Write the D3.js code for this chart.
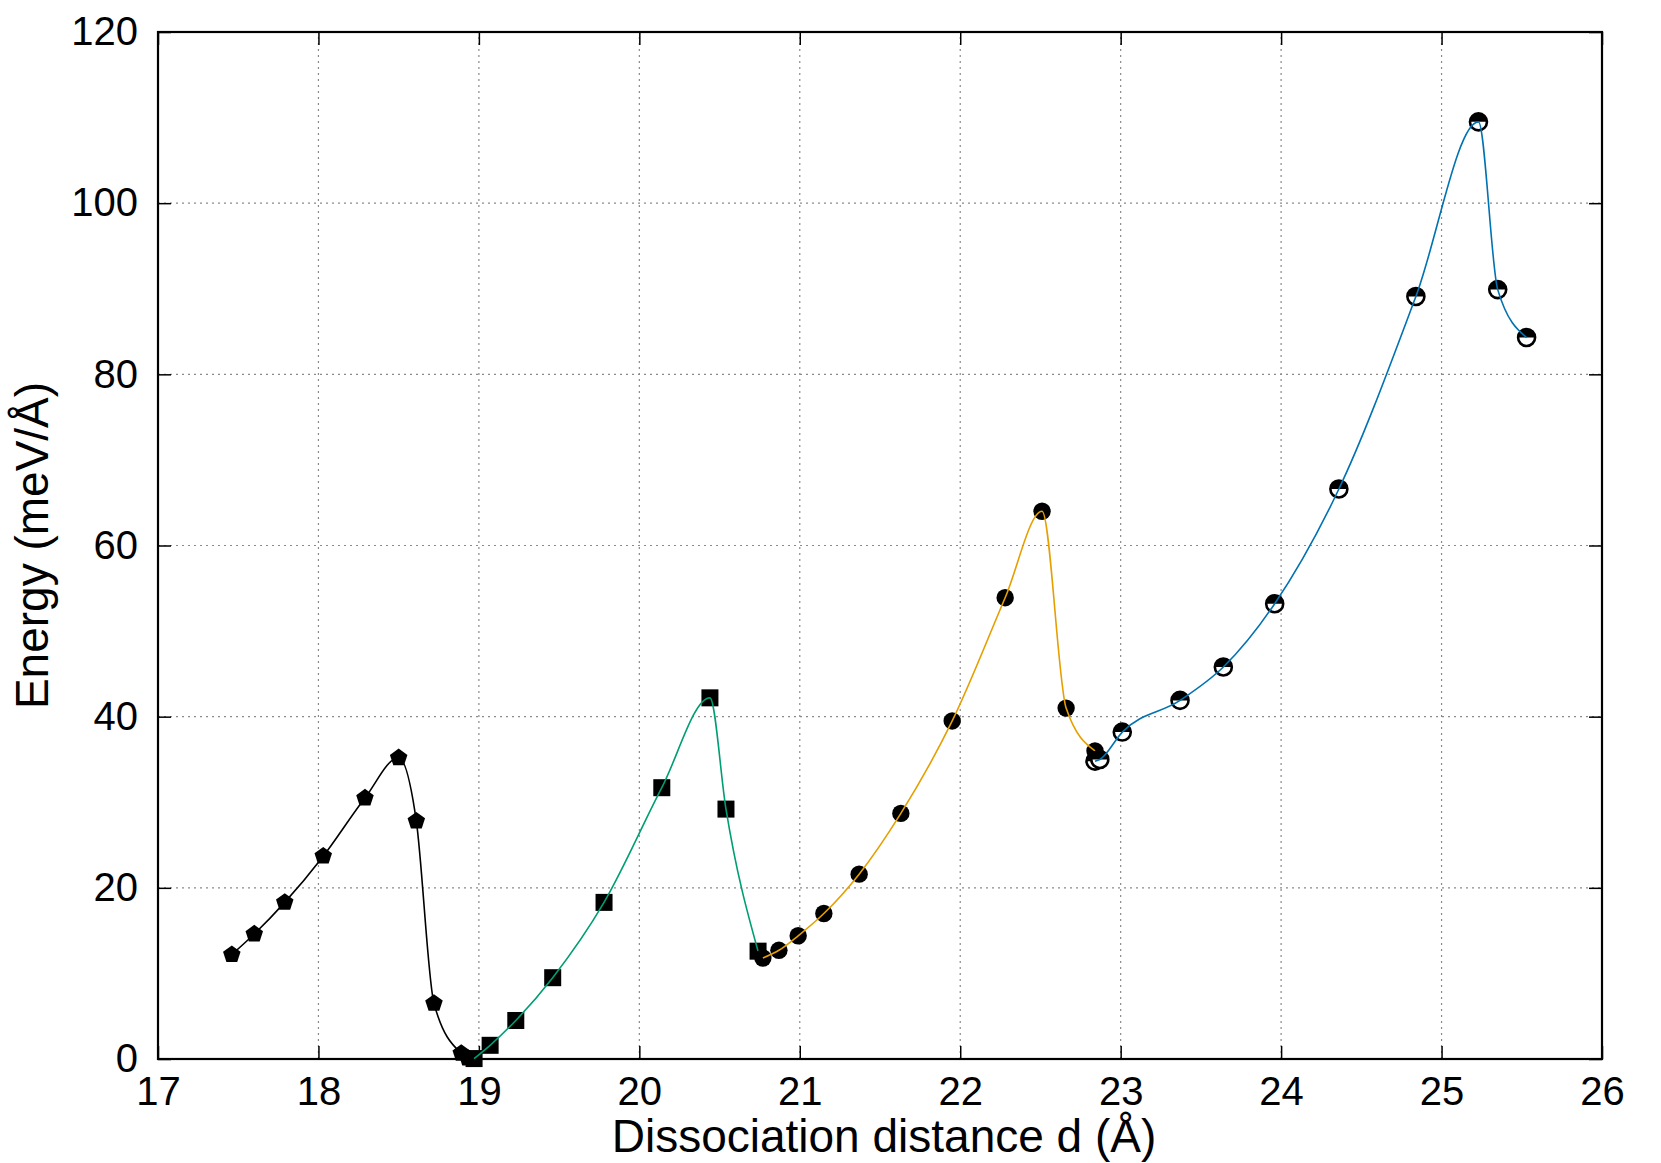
<!DOCTYPE html>
<html>
<head>
<meta charset="utf-8">
<script src="https://cdn.jsdelivr.net/npm/d3@7"></script>
<style>
  body { margin: 0; background: #fff; }
  text { font-family: "Liberation Sans", Arial, sans-serif; fill: #000; }
</style>
</head>
<body>
<div id="chart"></div>
<script>
// values
var xTicks = [17, 18, 19, 20, 21, 22, 23, 24, 25, 26];
var yTicks = [0, 20, 40, 60, 80, 100, 120];

var pentX = [17.46, 17.60, 17.79, 18.03, 18.29, 18.50, 18.61, 18.72, 18.89, 18.93];
var pentY = [12.2, 14.6, 18.3, 23.7, 30.5, 35.2, 27.8, 6.5, 0.66, 0.1];

var squareX = [18.97, 19.07, 19.23, 19.46, 19.78, 20.14, 20.44, 20.54, 20.74];
var squareY = [0.05, 1.6, 4.5, 9.5, 18.3, 31.7, 42.2, 29.2, 12.6];

var dotX = [20.77, 20.87, 20.99, 21.15, 21.37, 21.63, 21.95, 22.28, 22.51, 22.66, 22.84];
var dotY = [11.8, 12.7, 14.4, 17.0, 21.6, 28.7, 39.5, 53.9, 64.0, 41.0, 36.0];

var halfX = [22.84, 22.87, 23.01, 23.37, 23.64, 23.96, 24.36, 24.84, 25.23, 25.35, 25.53];
var halfY = [34.8, 35.0, 38.2, 41.9, 45.8, 53.2, 66.6, 89.1, 109.5, 89.9, 84.3];

var width = 1661, height = 1163;
var margin = {top: 32, right: 59, bottom: 104, left: 158};

var svg = d3.select("#chart").append("svg")
    .attr("width", width)
    .attr("height", height);

svg.append("rect").attr("width", width).attr("height", height).attr("fill", "#fff");

var x = d3.scaleLinear().domain([17, 26]).range([margin.left, width - margin.right]);
var y = d3.scaleLinear().domain([0, 120]).range([height - margin.bottom, margin.top]);

// grid
var grid = svg.append("g").attr("class", "grid")
    .attr("stroke", "#8a8a8a").attr("stroke-width", 1.2).attr("stroke-dasharray", "2,4");
grid.selectAll(".gx").data(xTicks.slice(1, -1)).enter().append("line")
    .attr("x1", function(d) { return x(d); }).attr("x2", function(d) { return x(d); })
    .attr("y1", y(0)).attr("y2", y(120));
grid.selectAll(".gy").data(yTicks.slice(1, -1)).enter().append("line")
    .attr("x1", x(17)).attr("x2", x(26))
    .attr("y1", function(d) { return y(d); }).attr("y2", function(d) { return y(d); });

// axes, ticks pointing inward, mirrored
var tickLen = 13;
var xAxis = svg.append("g").attr("transform", "translate(0," + y(0) + ")")
    .call(d3.axisBottom(x).tickValues(xTicks).tickSize(-tickLen).tickPadding(18));
var xAxisTop = svg.append("g").attr("transform", "translate(0," + y(120) + ")")
    .call(d3.axisTop(x).tickValues(xTicks).tickSize(-tickLen).tickFormat(""));
var yAxis = svg.append("g").attr("transform", "translate(" + x(17) + ",0)")
    .call(d3.axisLeft(y).tickValues(yTicks).tickSize(-tickLen).tickPadding(20));
var yAxisRight = svg.append("g").attr("transform", "translate(" + x(26) + ",0)")
    .call(d3.axisRight(y).tickValues(yTicks).tickSize(-tickLen).tickFormat(""));

[xAxis, xAxisTop, yAxis, yAxisRight].forEach(function(a) {
  a.select(".domain").remove();
  a.selectAll(".tick line").attr("stroke", "#000").attr("stroke-width", 1.5);
  a.selectAll("text").style("font-size", "40px").attr("fill", "#000")
    .style("font-family", "'Liberation Sans', Arial, sans-serif");
});
xAxis.selectAll("text").attr("dy", "0.71em");

// border
svg.append("rect")
    .attr("x", x(17)).attr("y", y(120))
    .attr("width", x(26) - x(17)).attr("height", y(0) - y(120))
    .attr("fill", "none").attr("stroke", "#000").attr("stroke-width", 2.2);

// axis titles
svg.append("text")
    .attr("x", (x(17) + x(26)) / 2 + 4).attr("y", 1152)
    .attr("text-anchor", "middle").style("font-size", "46px")
    .text("Dissociation distance d (Å)");
svg.append("text")
    .attr("transform", "translate(48," + ((y(0) + y(120)) / 2) + ") rotate(-90)")
    .attr("text-anchor", "middle").style("font-size", "46px")
    .text("Energy (meV/Å)");

// smooth curve through the points, no overshoot at the peaks
var line = d3.line()
    .curve(d3.curveMonotoneX)
    .x(function(d) { return x(d[0]); })
    .y(function(d) { return y(d[1]); });

function pentagon(r) {
  var pts = d3.range(5).map(function(i) {
    var ang = -Math.PI / 2 + i * 2 * Math.PI / 5;
    return [r * Math.cos(ang), r * Math.sin(ang)];
  });
  return "M" + pts.join("L") + "Z";
}

function zip(xs, ys) { return xs.map(function(v, i) { return [v, ys[i]]; }); }

// black pentagons
var gA = svg.append("g");
gA.selectAll("path.pt").data(zip(pentX, pentY)).enter().append("path")
    .attr("d", pentagon(9.2))
    .attr("transform", function(d) { return "translate(" + x(d[0]) + "," + y(d[1]) + ")"; })
    .attr("fill", "#000");
gA.append("path").datum(zip(pentX, pentY))
    .attr("d", line).attr("fill", "none").attr("stroke", "#000").attr("stroke-width", 1.6);

// green squares
var gB = svg.append("g");
gB.selectAll("rect").data(zip(squareX, squareY)).enter().append("rect")
    .attr("x", function(d) { return x(d[0]) - 8.5; })
    .attr("y", function(d) { return y(d[1]) - 8.5; })
    .attr("width", 17).attr("height", 17).attr("fill", "#000");
gB.append("path").datum(zip(squareX, squareY))
    .attr("d", line).attr("fill", "none").attr("stroke", "#009e73").attr("stroke-width", 1.6);

// orange filled circles
var gC = svg.append("g");
gC.selectAll("circle").data(zip(dotX, dotY)).enter().append("circle")
    .attr("cx", function(d) { return x(d[0]); })
    .attr("cy", function(d) { return y(d[1]); })
    .attr("r", 8.7).attr("fill", "#000");
gC.append("path").datum(zip(dotX, dotY))
    .attr("d", line).attr("fill", "none").attr("stroke", "#e69f00").attr("stroke-width", 1.6);

// blue half-filled circles
var gD = svg.append("g");
var half = gD.selectAll("g.h").data(zip(halfX, halfY)).enter().append("g")
    .attr("transform", function(d) { return "translate(" + x(d[0]) + "," + y(d[1]) + ")"; });
half.append("circle").attr("r", 8.5).attr("fill", "#fff");
half.append("path").attr("d", "M-8.5,0A8.5,8.5 0 0,1 8.5,0Z").attr("fill", "#000");
half.append("circle").attr("r", 8.5).attr("fill", "none").attr("stroke", "#000").attr("stroke-width", 2.6);
gD.append("path").datum(zip(halfX, halfY))
    .attr("d", line).attr("fill", "none").attr("stroke", "#0072b2").attr("stroke-width", 1.6);
</script>
</body>
</html>
